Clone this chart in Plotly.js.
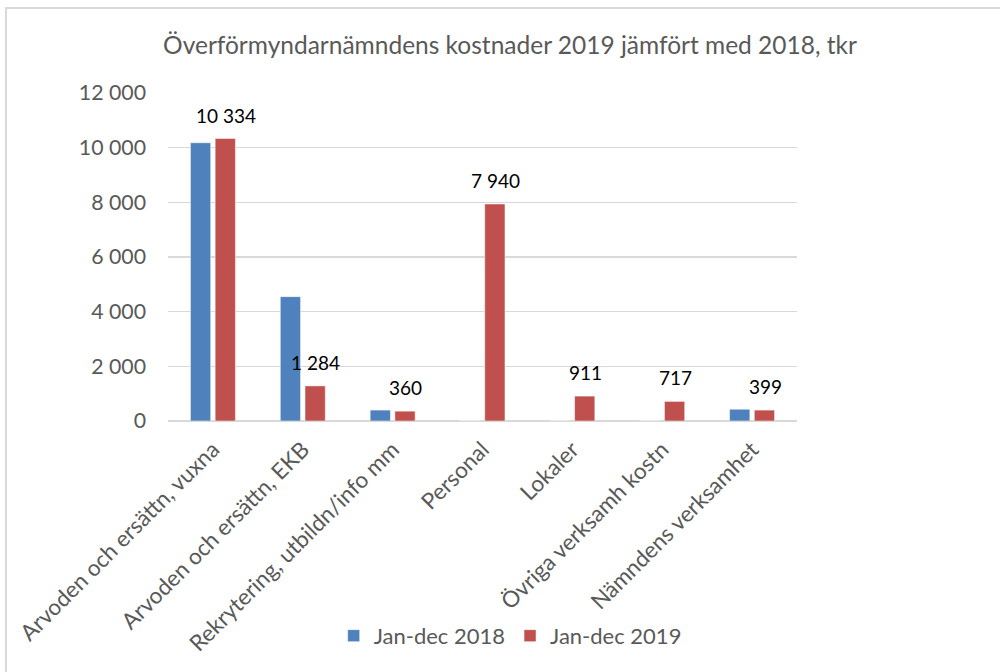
<!DOCTYPE html>
<html>
<head>
<meta charset="utf-8">
<script src="https://cdn.plot.ly/plotly-3.0.1.min.js"></script>
<style>
  html, body { margin: 0; padding: 0; background: #fff; overflow: hidden; }
  #frame { position: absolute; left: 5px; top: 7px; width: 1010px; height: 680px;
           border-left: 2px solid #d9d9d9; border-top: 2px solid #d9d9d9; }
  #chart { position: absolute; left: 0; top: 0; width: 1000px; height: 672px; }
</style>
</head>
<body>
<div id="frame"></div>
<div id="chart"></div>
<script>
// kostnader, tkr
const categories = [
    'Arvoden och ersättn, vuxna', 'Arvoden och ersättn, EKB',
    'Rekrytering, utbildn/info mm', 'Personal', 'Lokaler',
    'Övriga verksamh kostn', 'Nämndens verksamhet',
];
const cost2018 = [10180, 4550, 400, 0, 0, 0, 430];
const cost2019 = [10334, 1284, 360, 7940, 911, 717, 399];
const yTicks = [0, 2000, 4000, 6000, 8000, 10000, 12000];

const TEXT_GREY = '#595959';
const FONT = 'Lato, "Open Sans", sans-serif';

// "10334" -> "10 334"
const fmt = v => String(v).replace(/\B(?=(\d{3})+(?!\d))/g, ' ');

const traces = [
    {
        type: 'bar', name: 'Jan-dec 2018', x: categories, y: cost2018,
        marker: { color: '#4f81bd', line: { color: '#ffffff', width: 0.5 } },
        hoverinfo: 'skip',
    },
    {
        type: 'bar', name: 'Jan-dec 2019', x: categories, y: cost2019,
        marker: { color: '#c0504d', line: { color: '#ffffff', width: 0.5 } },
        hoverinfo: 'skip',
    },
];

// data labels only for 2019, sitting over the red bar
const labels = categories.map((c, i) => ({
    x: c, y: cost2019[i], text: fmt(cost2019[i]),
    xref: 'x', yref: 'y', showarrow: false,
    xanchor: 'center', yanchor: 'bottom', xshift: 13, yshift: 10,
    font: { family: FONT, size: 19, color: '#000000' },
}));

Plotly.newPlot('chart', traces, {
    width: 1000, height: 672,
    paper_bgcolor: 'rgba(0,0,0,0)', plot_bgcolor: 'rgba(0,0,0,0)',
    separators: ', ',
    font: { family: FONT, color: TEXT_GREY, size: 21 },
    title: {
        text: 'Överförmyndarnämndens kostnader 2019 jämfört med 2018, tkr',
        font: { family: FONT, size: 24.5, color: TEXT_GREY },
        x: 0.51, xanchor: 'center', y: 0.933, yanchor: 'middle',
    },
    margin: { l: 168, r: 203, t: 93, b: 251 },
    barmode: 'group', bargap: 0.45, bargroupgap: 0.18,
    xaxis: {
        tickangle: -45, showgrid: false, showline: false, ticks: '',
        ticklabelstandoff: 10,
        tickfont: { family: FONT, size: 22.5, color: TEXT_GREY },
    },
    yaxis: {
        range: [0, 12000], tickvals: yTicks, tickformat: ',d',
        showgrid: true, gridcolor: '#d9d9d9', gridwidth: 1.5,
        zeroline: true, zerolinecolor: '#d9d9d9', zerolinewidth: 1.5,
        showline: false, ticks: '', ticklabelstandoff: 21,
        tickfont: { family: FONT, size: 21.3, color: TEXT_GREY },
    },
    legend: {
        orientation: 'h', x: 0.544, xanchor: 'center', y: -0.655, yanchor: 'middle',
        font: { family: FONT, size: 22, color: TEXT_GREY },
        itemwidth: 30,
    },
    annotations: labels,
}, { displayModeBar: false, staticPlot: true });
</script>
</body>
</html>
